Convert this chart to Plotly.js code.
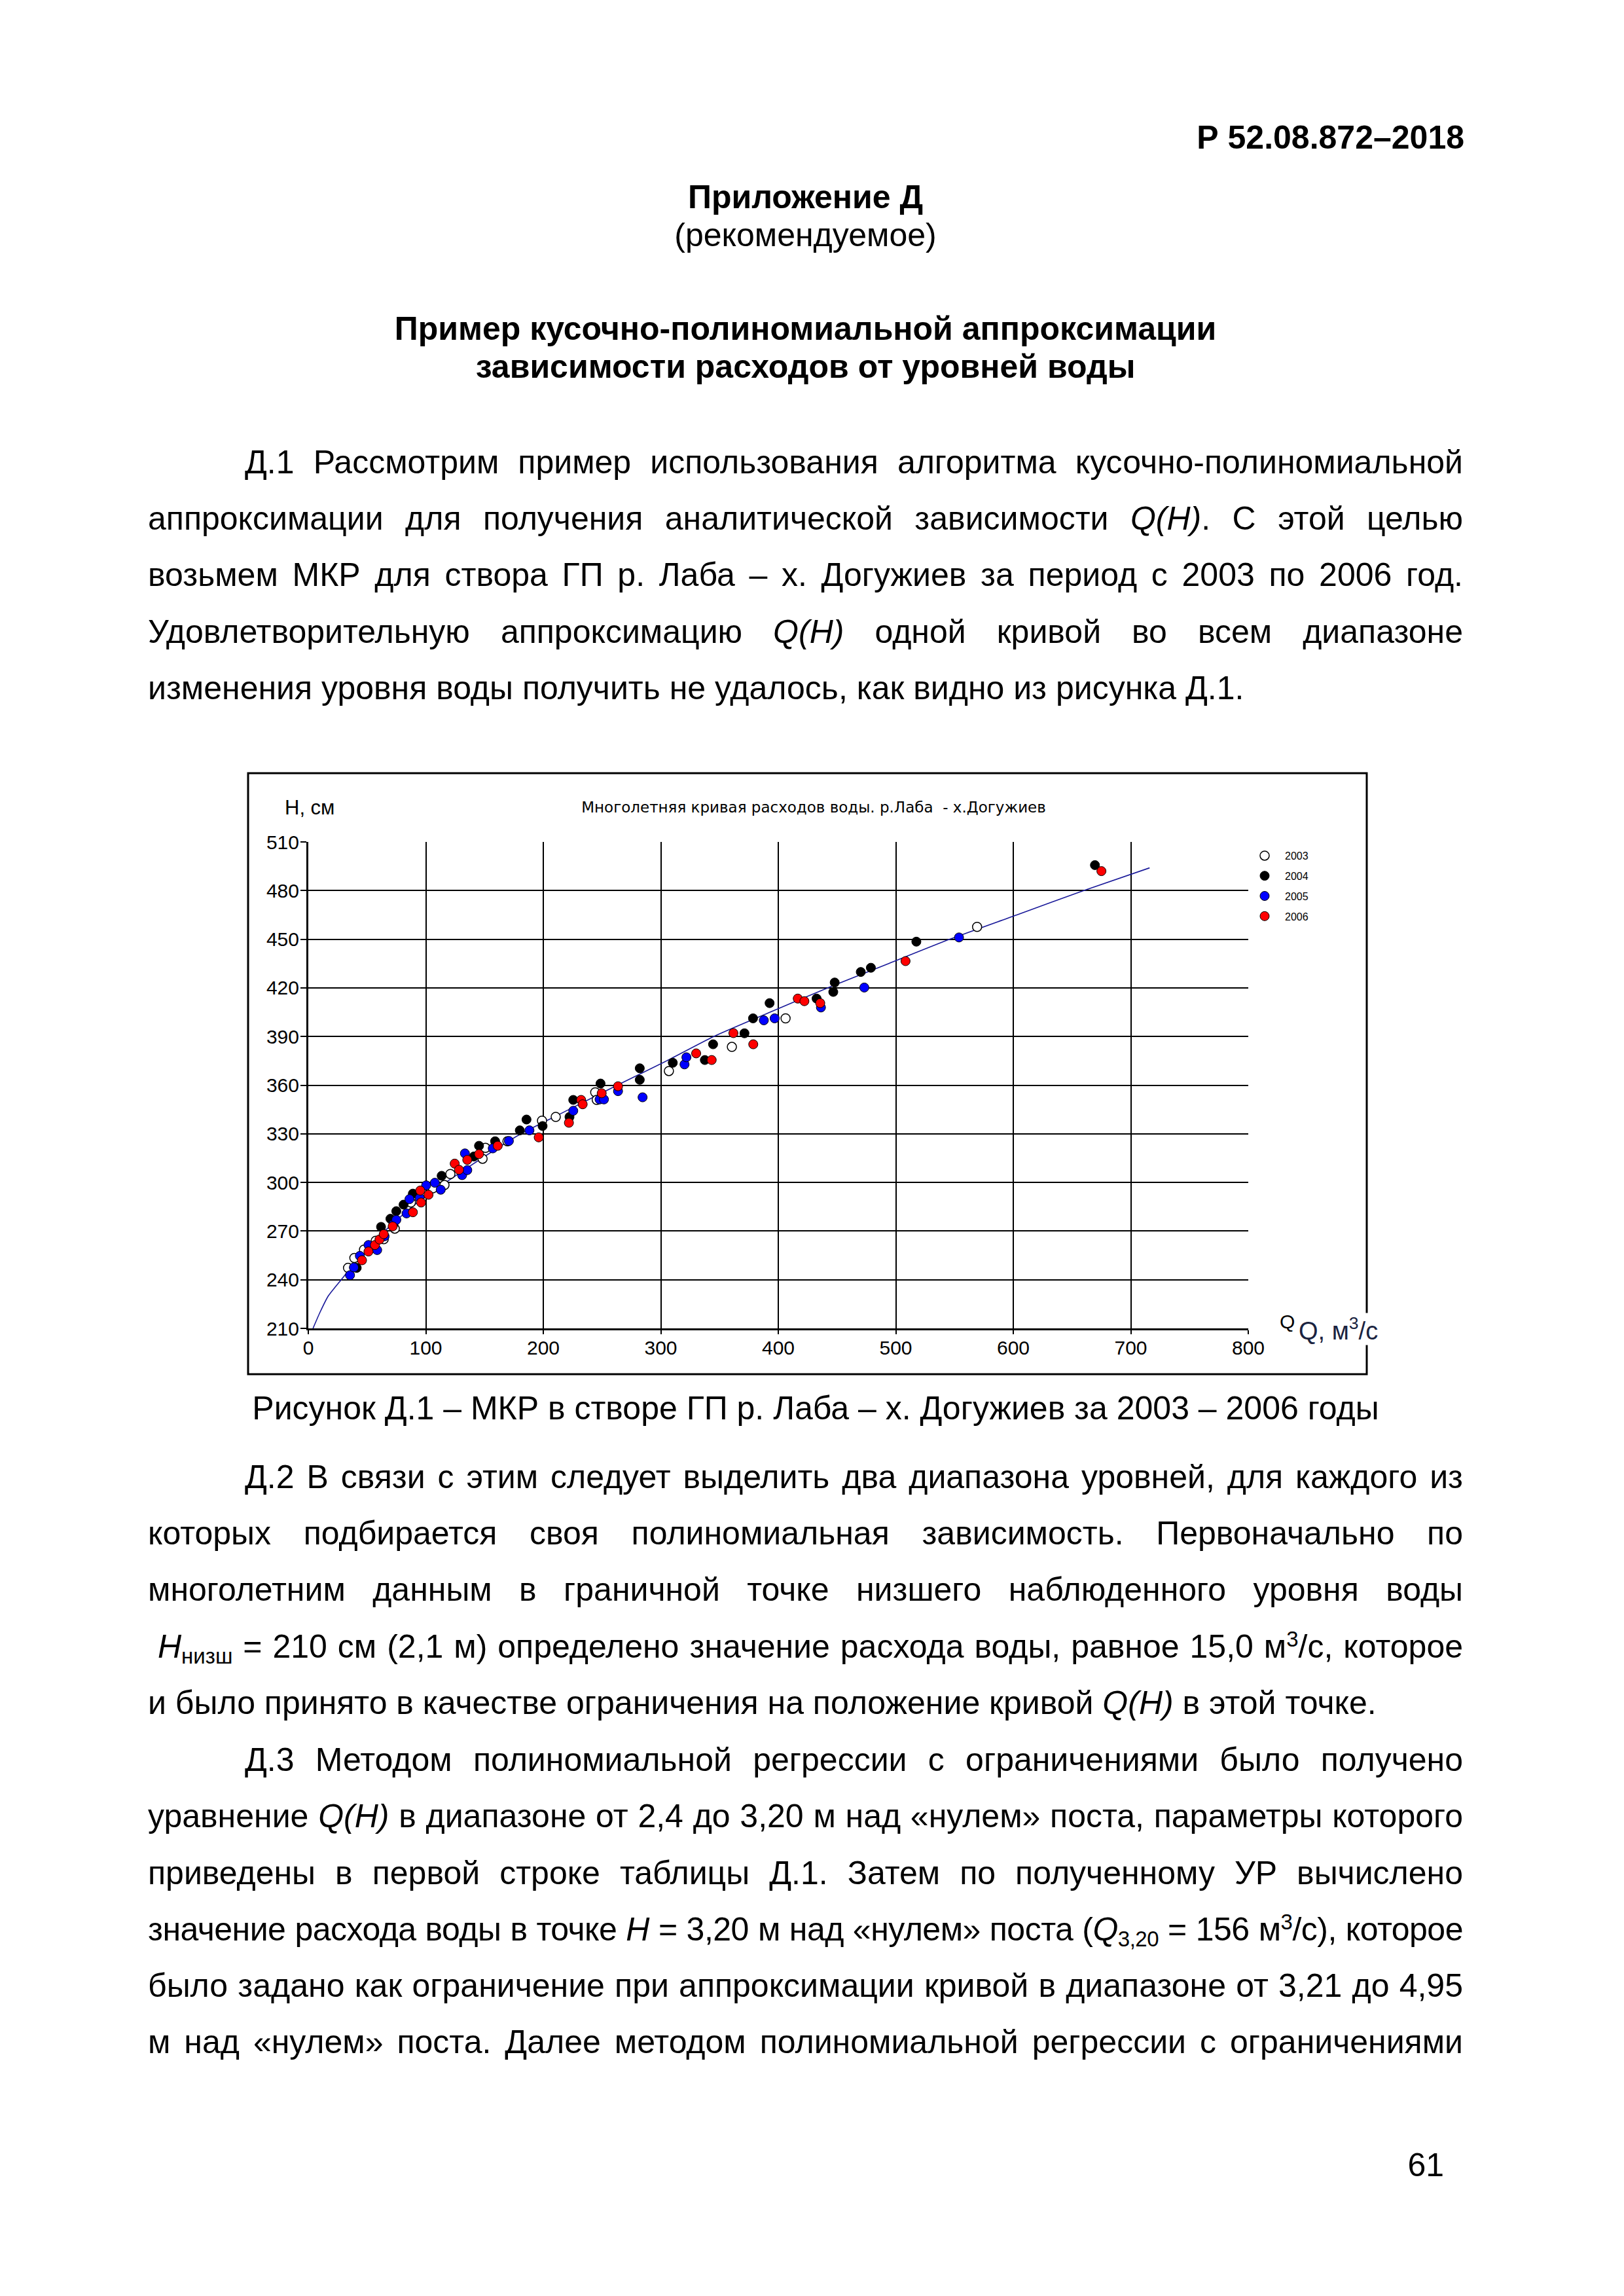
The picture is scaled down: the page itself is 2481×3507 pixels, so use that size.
<!DOCTYPE html>
<html>
<head>
<meta charset="utf-8">
<script src="https://cdn.plot.ly/plotly-3.0.1.min.js"></script>
<style>
  html, body { margin:0; padding:0; background:#fff; }
  #page { position:relative; width:2481px; height:3507px; background:#fff; overflow:hidden; }
  .ln { position:absolute; font-family:'Liberation Sans', Arial, sans-serif; font-size:50px; line-height:50px; color:#000; white-space:normal; }
  .b { font-weight:bold; }
  .c { text-align:center; }
  .r { text-align:right; }
  .j { text-align:justify; text-align-last:justify; }
  .lf { text-align:left; white-space:nowrap; }
  sub, sup { line-height:0; font-size:33px; }
  sub { vertical-align:-9px; }
  sup { vertical-align:17px; }
  #chart { position:absolute; left:360px; top:1160px; width:1760px; height:960px; }
</style>
</head>
<body>
<div id="page">
  <div class="ln b r" style="left:1237px; width:1000px; top:185px;">Р 52.08.872–2018</div>
  <div class="ln b c" style="left:226px; width:2009px; top:276px;">Приложение Д</div>
  <div class="ln c" style="left:226px; width:2009px; top:334px;">(рекомендуемое)</div>
  <div class="ln b c" style="left:226px; width:2009px; top:477px;">Пример кусочно-полиномиальной аппроксимации</div>
  <div class="ln b c" style="left:226px; width:2009px; top:535px;">зависимости расходов от уровней воды</div>

  <div class="ln j" style="left:374px; width:1861px; top:681px;">Д.1 Рассмотрим пример использования алгоритма кусочно-полиномиальной</div>
  <div class="ln j" style="left:226px; width:2009px; top:767px;">аппроксимации для получения аналитической зависимости <i>Q(H)</i>. С этой целью</div>
  <div class="ln j" style="left:226px; width:2009px; top:853px;">возьмем МКР для створа ГП р. Лаба – х. Догужиев за период с 2003 по 2006 год.</div>
  <div class="ln j" style="left:226px; width:2009px; top:940px;">Удовлетворительную аппроксимацию <i>Q(H)</i> одной кривой во всем диапазоне</div>
  <div class="ln lf" style="left:226px; top:1026px;">изменения уровня воды получить не удалось, как видно из рисунка Д.1.</div>

  <div id="chart"></div>

  <div class="ln c" style="left:246px; width:2000px; top:2126px;">Рисунок Д.1 – МКР в створе ГП р. Лаба – х. Догужиев за 2003 – 2006 годы</div>

  <div class="ln j" style="left:374px; width:1861px; top:2231px;">Д.2 В связи с этим следует выделить два диапазона уровней, для каждого из</div>
  <div class="ln j" style="left:226px; width:2009px; top:2317px;">которых подбирается своя полиномиальная зависимость. Первоначально по</div>
  <div class="ln j" style="left:226px; width:2009px; top:2403px;">многолетним данным в граничной точке низшего наблюденного уровня воды</div>
  <div class="ln j" style="left:241px; width:1994px; top:2490px;"><i>H</i><sub>низш</sub> = 210 см (2,1 м) определено значение расхода воды, равное 15,0 м<sup>3</sup>/с, которое</div>
  <div class="ln lf" style="left:226px; top:2576px;">и было принято в качестве ограничения на положение кривой <i>Q(H)</i> в этой точке.</div>

  <div class="ln j" style="left:374px; width:1861px; top:2663px;">Д.3 Методом полиномиальной регрессии с ограничениями было получено</div>
  <div class="ln j" style="left:226px; width:2009px; top:2749px;">уравнение <i>Q(H)</i> в диапазоне от 2,4 до 3,20 м над «нулем» поста, параметры которого</div>
  <div class="ln j" style="left:226px; width:2009px; top:2836px;">приведены в первой строке таблицы Д.1. Затем по полученному УР вычислено</div>
  <div class="ln j" style="left:226px; width:2009px; top:2922px;">значение расхода воды в точке <i>H</i> = 3,20 м над «нулем» поста (<i>Q</i><sub>3,20</sub> = 156 м<sup>3</sup>/с), которое</div>
  <div class="ln j" style="left:226px; width:2009px; top:3008px;">было задано как ограничение при аппроксимации кривой в диапазоне от 3,21 до 4,95</div>
  <div class="ln j" style="left:226px; width:2009px; top:3094px;">м над «нулем» поста. Далее методом полиномиальной регрессии с ограничениями</div>

  <div class="ln r" style="left:1206px; width:1000px; top:3282px;">61</div>
</div>

<script>
// ---------- data ----------
const years = ['2003', '2004', '2005', '2006'];

const q2003 = [33.8, 39.2, 47.4, 57.4, 64.2, 73.6, 87.3, 106, 115.9, 120.9, 148.3, 150.8, 169.5, 198.9, 210.6, 244.2, 245.5, 306.9, 360.5, 406.2, 569.2];
const h2003 = [247.3, 253.4, 258.6, 264, 265, 271.5, 287.6, 296.4, 298.4, 305.2, 314.6, 321.3, 325.4, 338.1, 340.4, 355.6, 350.9, 368.7, 383.6, 401.2, 457.6];

const q2004 = [41.2, 61.9, 69.9, 74.9, 81.1, 89, 113.5, 140.9, 145.3, 159, 180, 185.7, 199.4, 222.3, 225.5, 248.7, 282.1, 282.1, 310.2, 337.5, 344.5, 371.2, 378.5, 392.6, 432.6, 446.8, 448, 470.2, 478.8, 517.5, 669.5];
const h2004 = [247.3, 272.6, 277.6, 282.3, 286.3, 293.1, 304.1, 316, 322.6, 325.4, 332.1, 338.8, 334.8, 340.4, 350.9, 361, 370.4, 363.3, 373.8, 375.5, 385.2, 392, 401.2, 410.6, 413.4, 417.5, 423.3, 429.8, 432.4, 448.5, 495.7];

const q2005 = [35.5, 38.8, 43.9, 51.2, 58.6, 64.9, 72.4, 74.9, 83.6, 86.1, 94.8, 100.3, 107.7, 112.7, 130.9, 133.3, 135.3, 157, 170.7, 188.2, 225.5, 247.9, 251.6, 263.6, 284.5, 320.2, 321.8, 387.7, 396.9, 436.3, 473.2, 553.8];
const h2005 = [242.8, 247.6, 254.7, 261.4, 258.3, 266.8, 274.2, 276.9, 280.9, 289.7, 290.4, 298.2, 299.8, 295.5, 304.5, 317.9, 307.6, 321, 325.6, 332.1, 344.2, 351.2, 351.2, 356.3, 352.5, 372.8, 377.2, 400, 401.2, 407.9, 420.2, 451.1];

const q2006 = [45.7, 51.2, 56.7, 60.6, 64.2, 71.8, 89, 95.3, 96, 102.3, 124.6, 128.3, 135.3, 145.3, 161.2, 196.1, 221.8, 232.2, 233.5, 249.7, 263.6, 330.1, 343.3, 361.8, 378.7, 416.6, 422.2, 435.7, 508.3, 675];
const h2006 = [252, 257.4, 261.4, 264.8, 268.1, 272.9, 281.6, 295, 287.6, 292.4, 311.6, 307.8, 313.9, 317.5, 322.6, 327.8, 336.8, 350.9, 348.2, 355, 359.3, 379.6, 375.5, 392.1, 385.2, 413.4, 411.8, 410.6, 436.5, 492];

const fitQ = [4, 10, 17, 28, 45, 65, 90, 117, 150, 181, 222, 263, 305, 345, 393, 442, 494, 546, 603, 660, 716];
const fitH = [210, 220, 230, 240, 255, 270, 286, 300, 316, 330, 345, 360, 375, 390, 405, 420, 435, 450, 465, 480, 494];

const xTicks = [0, 100, 200, 300, 400, 500, 600, 700, 800];
const yTicks = [210, 240, 270, 300, 330, 360, 390, 420, 450, 480, 510];

const chartTitle = 'Многолетняя кривая расходов воды. р.Лаба\u00a0 - х.Догужиев';
const yLabel = 'H, см';
const xLabelShort = 'Q';
const xLabel = 'Q, м<sup>3</sup>/с';

// ---------- fit justified lines that are too long (condensed spacing as in the source) ----------
document.querySelectorAll('.ln.j').forEach(function (el) {
  const w = parseFloat(el.style.width);
  const s = document.createElement('span');
  s.style.cssText = 'position:absolute;visibility:hidden;white-space:nowrap;left:0;top:0;';
  s.innerHTML = el.innerHTML;
  el.appendChild(s);
  const nat = s.getBoundingClientRect().width;
  el.removeChild(s);
  if (nat > w - 6) {
    const n = el.textContent.length;
    el.style.letterSpacing = (-(nat - w + 10) / n).toFixed(3) + 'px';
  }
});

// ---------- chart ----------
const styles = {
  '2003': { color: '#ffffff', line: { color: '#000', width: 1.5 } },
  '2004': { color: '#000000', line: { color: '#000', width: 1 } },
  '2005': { color: '#0000ff', line: { color: '#000', width: 1 } },
  '2006': { color: '#ff0000', line: { color: '#000', width: 1 } }
};
const series = { '2003': [q2003, h2003], '2004': [q2004, h2004], '2005': [q2005, h2005], '2006': [q2006, h2006] };

const traces = [{
  x: fitQ, y: fitH, mode: 'lines', type: 'scatter', showlegend: false, hoverinfo: 'skip',
  line: { color: '#1a1a9a', width: 1.6, shape: 'spline', smoothing: 0.6 }
}];
years.forEach(function (yr) {
  traces.push({
    x: series[yr][0], y: series[yr][1], mode: 'markers', type: 'scatter', name: yr, legendgroup: yr,
    marker: { size: 14, symbol: 'circle', color: styles[yr].color, line: styles[yr].line }
  });
});

const L = 111, T = 126, PW = 1436, PH = 743;
function px(x) { return (x - 471) / PW; }
function py(y) { return (2029 - y) / PH; }

const axisCommon = {
  showgrid: true, gridcolor: '#000', gridwidth: 2,
  showline: true, linecolor: '#000', linewidth: 3, mirror: false,
  ticks: 'outside', tickcolor: '#000', tickwidth: 2,
  zeroline: false, tickfont: { family: 'Liberation Sans, Arial, sans-serif', size: 30, color: '#000' },
  fixedrange: true
};

const layout = {
  width: 1760, height: 960,
  margin: { l: L, r: 1760 - L - PW, t: T, b: 960 - T - PH, pad: 0 },
  paper_bgcolor: 'rgba(0,0,0,0)', plot_bgcolor: '#fff',
  font: { family: 'Liberation Sans, Arial, sans-serif', color: '#000' },
  title: {
    text: chartTitle, xref: 'container', x: (1243 - 360) / 1760, xanchor: 'center',
    yref: 'container', y: 1 - (1233 - 1160) / 960, yanchor: 'middle',
    font: { family: 'DejaVu Sans, sans-serif', size: 23, color: '#000' }
  },
  xaxis: Object.assign({}, axisCommon, {
    range: [0, 800], tickmode: 'array', tickvals: xTicks, ticktext: xTicks.map(String), ticklen: 6, ticklabelstandoff: -5
  }),
  yaxis: Object.assign({}, axisCommon, {
    range: [210, 510], tickmode: 'array', tickvals: yTicks, ticktext: yTicks.map(String), ticklen: 9, ticklabelstandoff: -4
  }),
  showlegend: true,
  legend: {
    x: px(1901), xanchor: 'left', y: py(1290), yanchor: 'top', itemwidth: 52,
    bgcolor: 'rgba(0,0,0,0)', borderwidth: 0, tracegroupgap: 7,
    font: { family: 'Liberation Sans, Arial, sans-serif', size: 16, color: '#000' }
  },
  shapes: [{
    type: 'rect', xref: 'paper', yref: 'paper', layer: 'above',
    x0: px(379), x1: px(2088), y0: py(2099), y1: py(1181),
    line: { color: '#000', width: 3 }, fillcolor: 'rgba(0,0,0,0)'
  }],
  annotations: [
    { text: yLabel, xref: 'paper', yref: 'paper', x: px(433), y: py(1234), xanchor: 'left', yanchor: 'middle',
      showarrow: false, font: { family: 'Liberation Sans, Arial, sans-serif', size: 31, color: '#000' } },
    { text: xLabelShort, xref: 'paper', yref: 'paper', x: px(1966), y: py(2018), xanchor: 'center', yanchor: 'middle',
      showarrow: false, font: { family: 'Liberation Sans, Arial, sans-serif', size: 30, color: '#000' } },
    { text: xLabel, xref: 'paper', yref: 'paper', x: px(1983), y: py(2030), xanchor: 'left', yanchor: 'middle',
      showarrow: false, bgcolor: '#fff', borderpad: 0,
      font: { family: 'Liberation Sans, Arial, sans-serif', size: 38, color: '#1a2340' } }
  ]
};

Plotly.newPlot('chart', traces, layout, { staticPlot: true, displayModeBar: false });
</script>
</body>
</html>
